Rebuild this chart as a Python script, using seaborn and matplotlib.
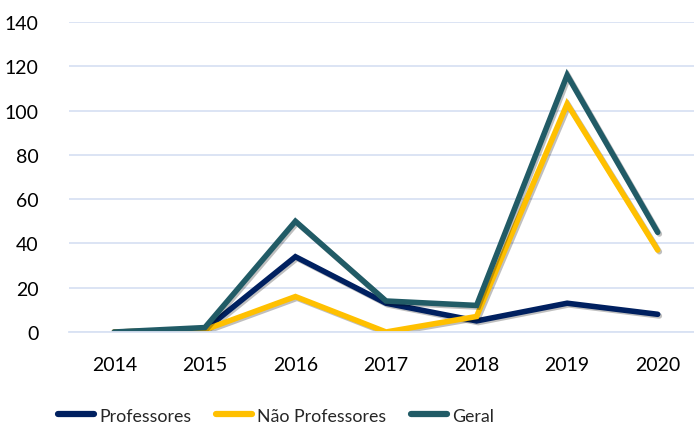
import pandas as pd
import matplotlib.pyplot as plt
import matplotlib.patheffects as pe
import seaborn as sns

#Data
anos = ["2014", "2015", "2016", "2017", "2018", "2019", "2020"]
professores = [0, 1, 34, 13, 5, 13, 8]
nao_professores = [0, 1, 16, 0, 7, 103, 37]
geral = [0, 2, 50, 14, 12, 116, 45]

series = ["Professores", "Não Professores", "Geral"]
cores = ["#002060", "#FFC000", "#215B66"]

df = pd.DataFrame({"Ano": anos * 3,
                   "Valor": professores + nao_professores + geral,
                   "Serie": [s for s in series for _ in anos]})
df["x"] = df["Ano"].map({a: i for i, a in enumerate(anos)})

sns.set_style("white")
plt.rcParams["font.family"] = ["Lato", "DejaVu Sans"]

fig = plt.figure(figsize=(6.94, 4.27), dpi=100)
ax = fig.add_axes([69/694, 94/427, 634/694, 310/427])

sns.lineplot(data=df, x="x", y="Valor", hue="Serie", hue_order=series,
             palette=cores, linewidth=4, ax=ax, legend=True)
for line in ax.get_lines():
    line.set_solid_capstyle("round")
    line.set_solid_joinstyle("miter")
    line.set_path_effects([pe.SimpleLineShadow(offset=(1.2, -1.2), alpha=0.25, shadow_color="black"),
                           pe.Normal()])

ax.set_xlim(-0.5, 6.5)
ax.set_ylim(0, 140)
ax.set_yticks(range(0, 141, 20))
ax.set_xticks(range(len(anos)))
ax.set_xticklabels(anos)
ax.set_xticks([i - 0.5 for i in range(len(anos) + 1)], minor=True)
ax.tick_params(axis="x", which="major", length=0, pad=17, labelsize=14, colors="#000000")
ax.tick_params(axis="x", which="minor", length=7, width=1.2, color="#D9E2F3", direction="out")
ax.tick_params(axis="y", length=0, pad=22, labelsize=14, colors="#000000")
ax.grid(axis="y", color="#D9E2F3", linewidth=1.3)
ax.set_axisbelow(True)
ax.set_xlabel("")
ax.set_ylabel("")
for s in ["top", "right", "left"]:
    ax.spines[s].set_visible(False)
ax.spines["bottom"].set_color("#D9E2F3")
ax.spines["bottom"].set_linewidth(1.3)

leg = ax.legend(loc="center", bbox_to_anchor=(207/634, -0.27), ncol=3, frameon=False,
                fontsize=12.8, handlelength=2.0, handletextpad=0.3, columnspacing=1.4)
for h in leg.get_lines():
    h.set_linewidth(4.5)
    h.set_solid_capstyle("round")
    h.set_path_effects([])

fig.savefig("out.png", dpi=100)
